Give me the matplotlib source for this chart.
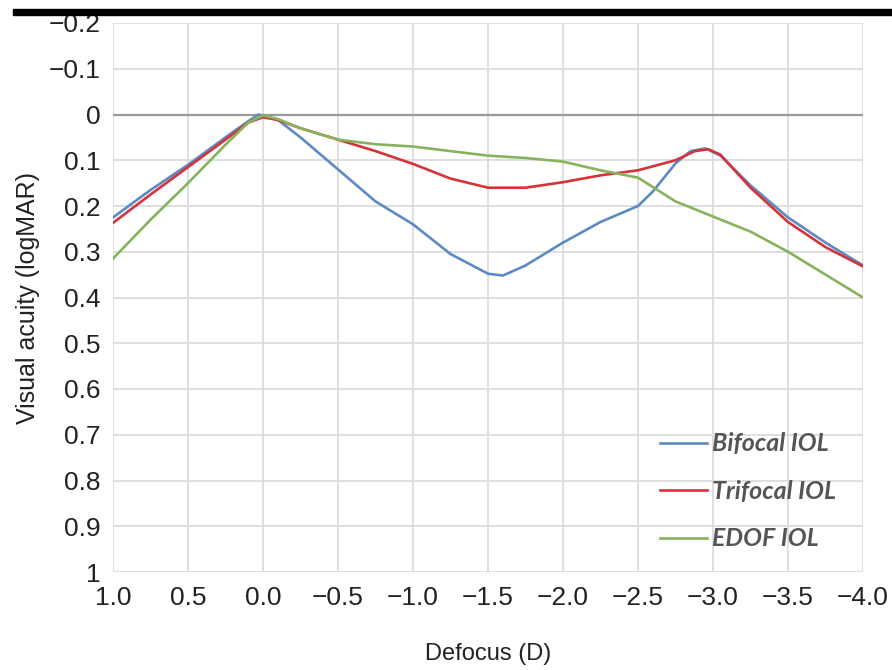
import matplotlib
matplotlib.use("Agg")
import matplotlib.pyplot as plt
from matplotlib.patches import Rectangle

# defocus (D) and visual acuity (logMAR)
bifocal_d = [1.0, 0.75, 0.5, 0.25, 0.1, 0.03, -0.1, -0.25, -0.5, -0.75, -1.0, -1.25, -1.5,
             -1.6, -1.75, -2.0, -2.25, -2.5, -2.6, -2.75, -2.85, -2.95, -3.05, -3.25, -3.5,
             -3.75, -4.0]
bifocal_va = [0.225, 0.165, 0.11, 0.05, 0.015, 0.0, 0.012, 0.05, 0.12, 0.19, 0.24, 0.305, 0.348,
              0.352, 0.33, 0.28, 0.235, 0.2, 0.168, 0.107, 0.08, 0.074, 0.09, 0.155, 0.225,
              0.28, 0.33]

trifocal_d = [1.0, 0.75, 0.5, 0.25, 0.1, 0.0, -0.1, -0.25, -0.5, -0.75, -1.0, -1.25, -1.5,
              -1.75, -2.0, -2.25, -2.5, -2.75, -2.88, -2.97, -3.05, -3.25, -3.5, -3.75, -4.0]
trifocal_va = [0.237, 0.175, 0.115, 0.055, 0.018, 0.006, 0.012, 0.03, 0.055, 0.08, 0.108, 0.14,
               0.16, 0.16, 0.148, 0.133, 0.122, 0.1, 0.08, 0.076, 0.088, 0.16, 0.235, 0.29, 0.332]

edof_d = [1.0, 0.75, 0.5, 0.25, 0.1, 0.0, -0.1, -0.25, -0.5, -0.75, -1.0, -1.25, -1.5, -1.75,
          -2.0, -2.25, -2.5, -2.75, -3.0, -3.25, -3.5, -3.75, -4.0]
edof_va = [0.315, 0.23, 0.15, 0.066, 0.018, 0.002, 0.01, 0.03, 0.055, 0.065, 0.07, 0.08, 0.09,
           0.095, 0.103, 0.122, 0.138, 0.19, 0.223, 0.256, 0.3, 0.35, 0.4]

x_ticks = [1.0, 0.5, 0.0, -0.5, -1.0, -1.5, -2.0, -2.5, -3.0, -3.5, -4.0]
y_ticks = [-0.2, -0.1, 0, 0.1, 0.2, 0.3, 0.4, 0.5, 0.6, 0.7, 0.8, 0.9, 1.0]
y_labels = ["\u22120.2", "\u22120.1", "0", "0.1", "0.2", "0.3", "0.4", "0.5",
            "0.6", "0.7", "0.8", "0.9", "1"]

plt.rcParams['font.family'] = ['Liberation Sans', 'DejaVu Sans']

fig = plt.figure(figsize=(8.92, 6.70), dpi=100)
ax = fig.add_axes([113 / 892, 1 - 572 / 670, 750 / 892, 549 / 670])

# black strip along the top of the image
fig.patches.append(Rectangle((13 / 892, 1 - 15 / 670), 1, 6 / 670,
                             transform=fig.transFigure, color='black'))

ax.plot(bifocal_d, bifocal_va, color='#5d8ac4', lw=1.9, label='Bifocal IOL')
ax.plot(trifocal_d, trifocal_va, color='#d6323a', lw=1.9, label='Trifocal IOL')
ax.plot(edof_d, edof_va, color='#86b35c', lw=1.9, label='EDOF IOL')

ax.axhline(0, color='#9a9a9a', lw=1.6, zorder=1)

ax.set_xlim(1.0, -4.0)
ax.set_ylim(1.0, -0.2)
ax.set_xticks(x_ticks)
ax.set_xticklabels([f"{v:.1f}".replace("-", "\u2212") for v in x_ticks])
ax.set_yticks(y_ticks)
ax.set_yticklabels(y_labels)
ax.grid(True, color='#dcdcdc', lw=1.3)
ax.set_axisbelow(True)
for s in ax.spines.values():
    s.set_visible(False)
ax.tick_params(length=0, labelsize=19, colors='#222222', pad=10)
ax.tick_params(axis='y', pad=9)

ax.set_xlabel('Defocus (D)', fontsize=17, color='#222222', labelpad=24)
ax.set_ylabel('Visual acuity (logMAR)', fontsize=18, color='#222222', labelpad=6)

leg = ax.legend(loc='upper left', bbox_to_anchor=(0.712, 0.277), frameon=False,
                borderpad=0, handlelength=1.9, handletextpad=0.2, labelspacing=0.98,
                prop={'family': 'Lato', 'weight': 'bold', 'style': 'italic', 'size': 18})
for t in leg.get_texts():
    t.set_color('#555555')

fig.savefig('out.png', dpi=100)
